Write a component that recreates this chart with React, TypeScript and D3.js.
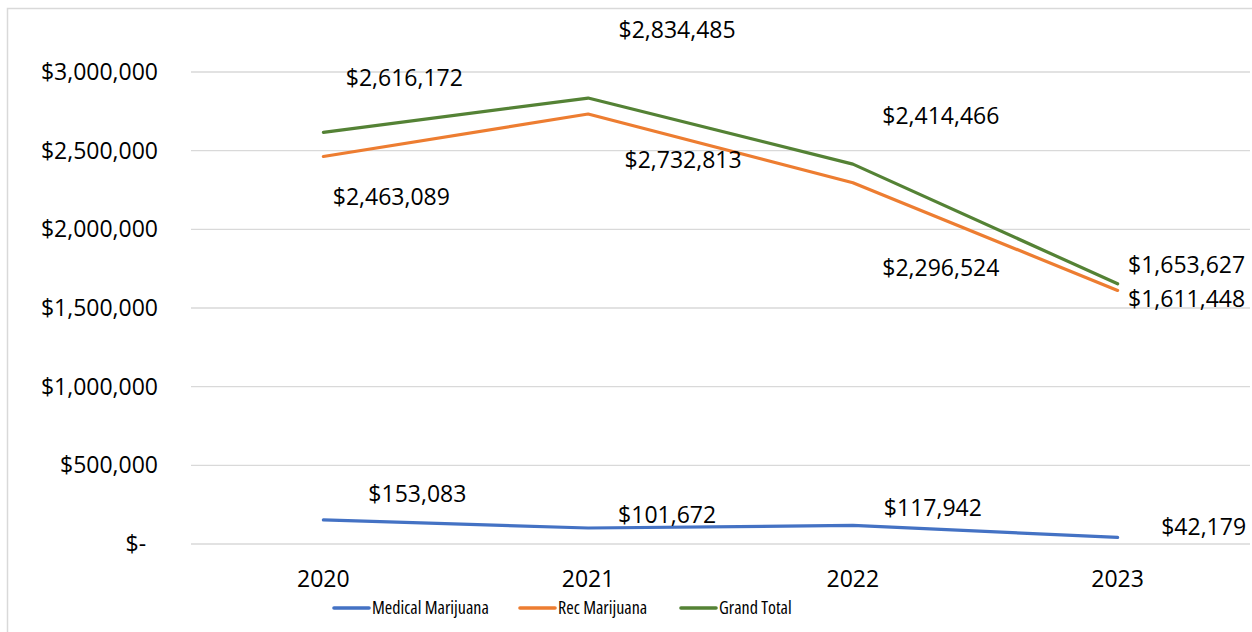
import React from 'react';
import * as d3 from 'd3';

// values
const years = ['2020', '2021', '2022', '2023'];
const medical = [153083, 101672, 117942, 42179];
const rec = [2463089, 2732813, 2296524, 1611448];
const grandTotal = [2616172, 2834485, 2414466, 1653627];
const yTicks = [0, 500000, 1000000, 1500000, 2000000, 2500000, 3000000];

const series = [
  { name: 'Medical Marijuana', values: medical, color: '#4472C4' },
  { name: 'Rec Marijuana', values: rec, color: '#ED7D31' },
  { name: 'Grand Total', values: grandTotal, color: '#548235' },
];

// label offsets relative to each point (Excel-ish placement)
const labelOffsets: Record<string, [number, number][]> = {
  'Medical Marijuana': [[94, -26], [79, -13], [80, -17], [86, -10]],
  'Rec Marijuana': [[68, 40], [95, 46], [88, 85], [69, 8]],
  'Grand Total': [[81, -54], [89, -68], [88, -48], [69, -19]],
};

const FONT = '"Open Sans", sans-serif';

const money = (v: number) => (v === 0 ? '$-  ' : '$' + d3.format(',')(v));

export default function App() {
  const width = 1252;
  const height = 632;
  const margin = { top: 72, right: 2, bottom: 88, left: 191 };

  const x = d3.scaleBand<string>()
    .domain(years)
    .range([margin.left, width - margin.right]);

  const y = d3.scaleLinear()
    .domain([0, 3000000])
    .range([height - margin.bottom, margin.top]);

  const cx = (i: number) => (x(years[i]) ?? 0) + x.bandwidth() / 2;

  const line = d3.line<number>()
    .x((_, i) => cx(i))
    .y(d => y(d));

  const legendX = [334, 520, 681];

  return (
    <svg width={width} height={height} style={{ position: 'absolute', left: 0, top: 0, background: '#fff' }}>
      <rect x={7.5} y={8.5} width={width} height={height} fill="none" stroke="#d9d9d9" strokeWidth={1.5} />

      {/* gridlines + y labels */}
      {yTicks.map(t => (
        <g key={t}>
          <line x1={margin.left} x2={width - margin.right} y1={y(t)} y2={y(t)} stroke="#d9d9d9" strokeWidth={1.3} />
          <text x={158} y={y(t)} dy="0.35em" textAnchor="end" fontFamily={FONT} fontSize={23} fill="#000"
            style={{ whiteSpace: 'pre' }}>
            {money(t)}
          </text>
        </g>
      ))}

      {/* x labels */}
      {years.map((yr, i) => (
        <text key={yr} x={cx(i)} y={579} dy="0.35em" textAnchor="middle" fontFamily={FONT} fontSize={23} fill="#000">
          {yr}
        </text>
      ))}

      {/* lines */}
      {series.map(s => (
        <path key={s.name} d={line(s.values) ?? ''} fill="none" stroke={s.color} strokeWidth={3.2}
          strokeLinejoin="round" strokeLinecap="round" />
      ))}

      {/* data labels */}
      {series.map(s =>
        s.values.map((v, i) => {
          const [dx, dy] = labelOffsets[s.name][i];
          return (
            <text key={s.name + i} x={cx(i) + dx} y={y(v) + dy} dy="0.35em" textAnchor="middle"
              fontFamily={FONT} fontSize={23} fill="#000">
              {money(v)}
            </text>
          );
        })
      )}

      {/* legend */}
      {series.map((s, i) => (
        <g key={s.name}>
          <line x1={legendX[i]} x2={legendX[i] + 35} y1={608} y2={608} stroke={s.color} strokeWidth={3.6} strokeLinecap="round" />
          <text x={legendX[i] + 38} y={608} dy="0.35em" fontFamily={FONT} fontSize={18} fill="#000"
            style={{ fontStretch: '75%' }}>
            {s.name}
          </text>
        </g>
      ))}
    </svg>
  );
}
